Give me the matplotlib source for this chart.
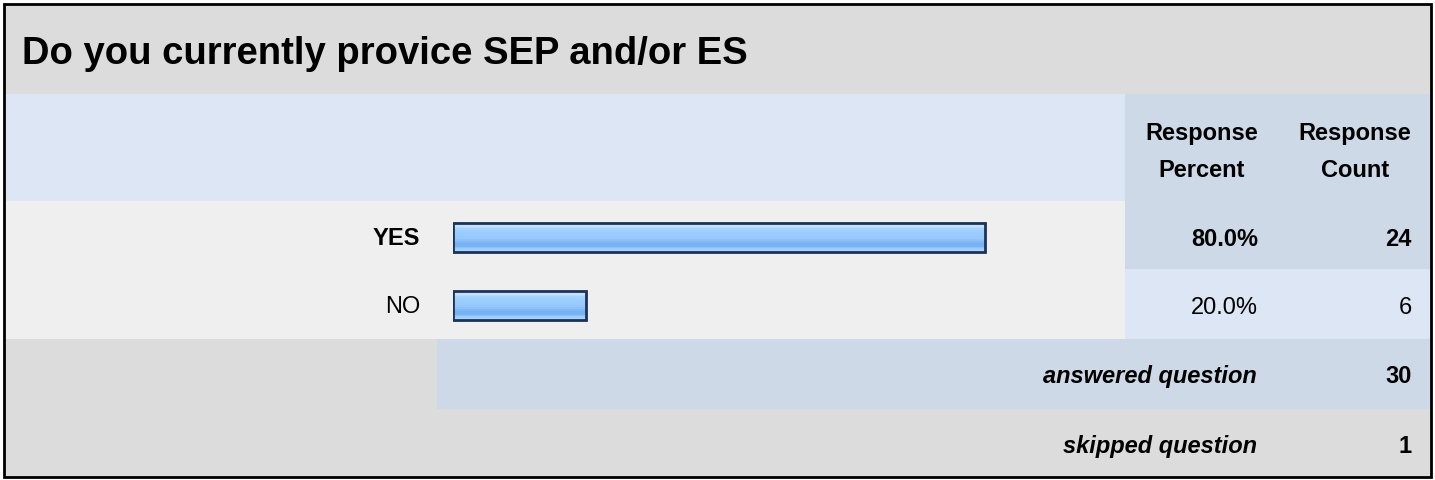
import numpy as np
import matplotlib
matplotlib.use("Agg")
import matplotlib.pyplot as plt
from matplotlib.patches import Rectangle
from matplotlib.colors import to_rgb

plt.rcParams['font.family'] = ['Liberation Sans', 'DejaVu Sans']

title = "Do you currently provice SEP and/or ES"
answers = ["YES", "NO"]
percents = [80.0, 20.0]
counts = [24, 6]
answered = 30
skipped = 1

W, H = 1435, 481
fig = plt.figure(figsize=(W / 100, H / 100), dpi=100)
ax = fig.add_axes([0, 0, 1, 1])
ax.set_xlim(0, W)
ax.set_ylim(H, 0)
ax.axis("off")

grey = "#dcdcdc"
light = "#dce6f4"
dark = "#cdd9e6"
row_bg = "#efefef"


def box(x0, y0, x1, y1, c):
    ax.add_patch(Rectangle((x0, y0), x1 - x0, y1 - y0, facecolor=c, edgecolor="none", zorder=0))


# table backgrounds
box(4, 5, 1431, 95, grey)
box(4, 95, 1125, 202, light)
box(1125, 95, 1431, 202, dark)
box(4, 202, 1125, 270, row_bg)
box(1125, 202, 1431, 270, dark)
box(4, 270, 1125, 340, row_bg)
box(1125, 270, 1431, 340, light)
box(4, 340, 437, 410, grey)
box(437, 340, 1431, 410, dark)
box(4, 410, 1431, 478, grey)
ax.add_patch(Rectangle((4, 5), 1427, 473, facecolor="none", edgecolor="black", lw=2.0, zorder=5))

ax.text(22, 54, title, fontsize=27.5, fontweight="bold", ha="left", va="center")

fs = 17
for cx in (1202, 1355):
    ax.text(cx, 134, "Response", fontsize=fs, fontweight="bold", ha="center", va="center")
ax.text(1202, 171, "Percent", fontsize=fs, fontweight="bold", ha="center", va="center")
ax.text(1355, 171, "Count", fontsize=fs, fontweight="bold", ha="center", va="center")

row_y = [238, 306]
for i, (lab, p, c) in enumerate(zip(answers, percents, counts)):
    w = "bold" if i == 0 else "normal"
    ax.text(420, row_y[i] + 1, lab, fontsize=fs, fontweight=w, ha="right", va="center")
    ax.text(1258, row_y[i] + 2, f"{p:.1f}%", fontsize=fs, fontweight=w, ha="right", va="center")
    ax.text(1412, row_y[i] + 2, str(c), fontsize=fs, fontweight=w, ha="right", va="center")

ax.text(1257, 377, "answered question", fontsize=fs, fontweight="bold", style="italic", ha="right", va="center")
ax.text(1412, 377, str(answered), fontsize=fs, fontweight="bold", ha="right", va="center")
ax.text(1257, 447, "skipped question", fontsize=fs, fontweight="bold", style="italic", ha="right", va="center")
ax.text(1412, 447, str(skipped), fontsize=fs, fontweight="bold", ha="right", va="center")

# bar area: 0-100% spans 665 px starting at x=453, rows 202-340
bx = fig.add_axes([453 / W, 1 - 340 / H, 665 / W, 138 / H])
bx.axis("off")

stripes = ["#d8ecff", "#c4e2ff", "#b2d9ff", "#a6d3ff", "#9dceff", "#9acdff", "#9acbff",
           "#98caff", "#96c8fe", "#8fc2fb", "#80b8f6", "#76b1f3", "#78b2f3", "#8cc2fb",
           "#9ccdff", "#a8d4ff"]
grad = np.array([to_rgb(c) for c in stripes])[:, None, :]
bar_h = 29
for i, p in enumerate(percents):
    y0 = row_y[i] - bar_h / 2
    bx.imshow(grad, extent=(0, p, y0 + bar_h, y0), aspect="auto", interpolation="nearest", zorder=2)
    bx.add_patch(Rectangle((0, y0), p, bar_h, facecolor="none", edgecolor="#1c3358", lw=2.0, zorder=3))
bx.set_xlim(0, 100)
bx.set_ylim(340, 202)

fig.savefig("out.png", dpi=100)
